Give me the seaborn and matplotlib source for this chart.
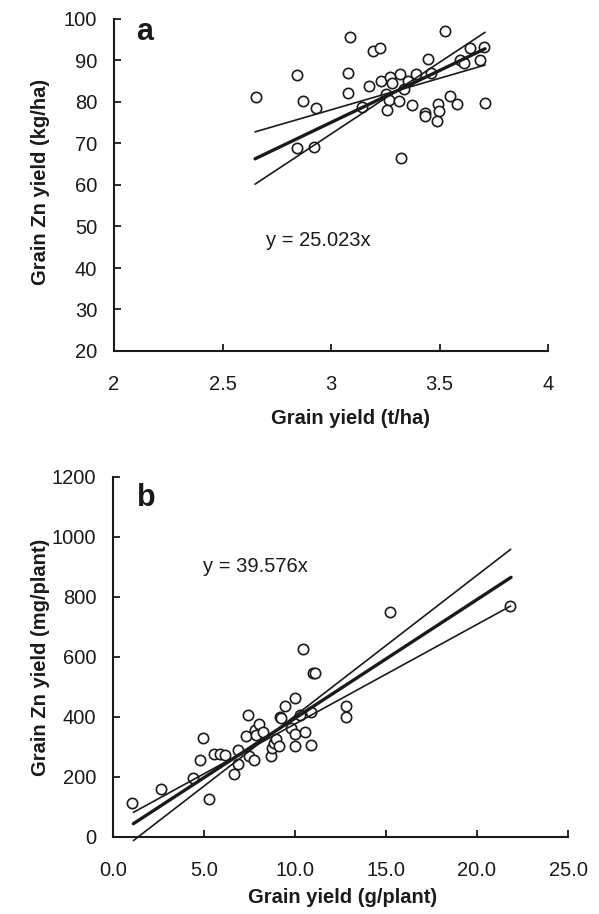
import matplotlib
matplotlib.use("Agg")
import matplotlib.pyplot as plt
import seaborn as sns
import numpy as np
import pandas as pd

# ---------------- data ----------------
# Panel a: grain yield (t/ha) vs grain Zn yield (kg/ha)
a_x = [2.653, 2.845, 2.870, 2.929, 2.845, 2.923, 3.086, 3.078, 3.078, 3.175, 3.141,
       3.192, 3.224, 3.229, 3.270, 3.283, 3.252, 3.266, 3.258, 3.318, 3.313, 3.355,
       3.336, 3.324, 3.373, 3.390, 3.446, 3.462, 3.433, 3.433, 3.493, 3.499, 3.487,
       3.547, 3.582, 3.524, 3.642, 3.704, 3.596, 3.613, 3.685, 3.708]
a_y = [81.1, 86.4, 80.2, 78.6, 68.9, 69.2, 95.6, 87.1, 82.1, 83.9, 78.9,
       92.4, 93.0, 85.1, 86.1, 84.5, 81.9, 80.6, 78.0, 86.7, 80.2, 85.0,
       83.1, 66.4, 79.2, 86.7, 90.4, 87.1, 77.3, 76.7, 79.6, 77.9, 75.5,
       81.4, 79.5, 97.0, 93.0, 93.3, 90.0, 89.3, 90.1, 79.8]
a_slope = 25.023
a_fit_x = [2.65, 3.71]
a_band_x = [2.65, 3.71]
a_band_flat = [72.8, 88.9]
a_band_steep = [60.2, 96.8]

# Panel b: grain yield (g/plant) vs grain Zn yield (mg/plant)
b_x = [1.07, 2.64, 4.38, 4.80, 4.95, 5.29, 5.55, 5.88, 6.14, 6.67, 6.89, 6.89,
       7.44, 7.31, 7.47, 7.75, 7.82, 8.02, 7.86, 8.24, 8.66, 8.72, 8.85, 8.94,
       9.12, 9.18, 9.23, 9.45, 9.78, 10.02, 10.02, 10.02, 10.27, 10.53, 10.44,
       10.90, 10.90, 11.01, 11.12, 12.82, 12.82, 15.2, 21.8]
b_y = [112, 159, 198, 256, 330, 128, 277, 277, 272, 209, 243, 290,
       407, 338, 271, 256, 357, 376, 340, 350, 269, 296, 312, 326,
       304, 399, 398, 438, 364, 464, 342, 303, 407, 350, 626,
       308, 417, 548, 548, 438, 399, 751, 770]
b_slope = 39.576
b_fit_x = [1.12, 21.87]
b_band_x = [1.12, 21.85]
b_band_flat = [82, 770]
b_band_steep = [-12, 959]

a_xticks = [2, 2.5, 3, 3.5, 4]
a_xticklabels = ["2", "2.5", "3", "3.5", "4"]
a_yticks = [20, 30, 40, 50, 60, 70, 80, 90, 100]
b_xticks = [0, 5, 10, 15, 20, 25]
b_xticklabels = ["0.0", "5.0", "10.0", "15.0", "20.0", "25.0"]
b_yticks = [0, 200, 400, 600, 800, 1000, 1200]

# ---------------- style ----------------
sns.set_theme(style="ticks")
plt.rcParams["font.family"] = ["Liberation Sans", "DejaVu Sans"]
ink = "#1a1a1a"

fig = plt.figure(figsize=(5.99, 9.14), dpi=100)
W, H = 599, 914
def box(l, r, t, b):
    return [l / W, 1 - b / H, (r - l) / W, (b - t) / H]

ax_a = fig.add_axes(box(114, 548, 19, 351))
ax_b = fig.add_axes(box(113, 568, 477, 837))

def draw(ax, xs, ys, slope, fit_x, band_x, flat, steep):
    df = pd.DataFrame({"x": xs, "y": ys})
    sns.scatterplot(data=df, x="x", y="y", ax=ax, marker="o", s=55,
                    facecolor="white", edgecolor=ink, linewidth=1.2, zorder=3)
    fx = np.array(fit_x)
    sns.lineplot(x=fx, y=slope * fx, ax=ax, color=ink, linewidth=2.4,
                 estimator=None, sort=False, zorder=4)
    sns.lineplot(x=band_x, y=flat, ax=ax, color=ink, linewidth=1.2,
                 estimator=None, sort=False, zorder=4)
    sns.lineplot(x=band_x, y=steep, ax=ax, color=ink, linewidth=1.2,
                 estimator=None, sort=False, zorder=4)
    for ln in ax.lines:
        ln.set_clip_on(False)

draw(ax_a, a_x, a_y, a_slope, a_fit_x, a_band_x, a_band_flat, a_band_steep)
draw(ax_b, b_x, b_y, b_slope, b_fit_x, b_band_x, b_band_flat, b_band_steep)

def style_axes(ax, xlim, ylim, xt, xtl, yt, xlabel, ylabel, xlc, ylc):
    ax.set_xlim(*xlim)
    ax.set_ylim(*ylim)
    ax.set_xticks(xt)
    ax.set_xticklabels(xtl)
    ax.set_yticks(yt)
    ax.set_yticklabels([str(v) for v in yt])
    sns.despine(ax=ax)
    for s in ("left", "bottom"):
        ax.spines[s].set_linewidth(1.5)
        ax.spines[s].set_color(ink)
    ax.tick_params(direction="in", length=5, width=1.3, color=ink,
                   labelsize=14.5, labelcolor=ink)
    ax.tick_params(axis="x", pad=17)
    ax.tick_params(axis="y", pad=12)
    ax.set_xlabel(xlabel, fontsize=14.5, fontweight="bold", color=ink)
    ax.set_ylabel(ylabel, fontsize=14.5, fontweight="bold", color=ink)
    ax.xaxis.set_label_coords(*xlc)
    ax.yaxis.set_label_coords(*ylc)

style_axes(ax_a, (2, 4), (20, 100), a_xticks, a_xticklabels, a_yticks,
           "Grain yield (t/ha)", "Grain Zn yield (kg/ha)",
           (0.544, -0.175), (-0.147, 0.509))
style_axes(ax_b, (0, 25), (0, 1200), b_xticks, b_xticklabels, b_yticks,
           "Grain yield (g/plant)", "Grain Zn yield (mg/plant)",
           (0.505, -0.142), (-0.138, 0.5))

ax_a.text(0.052, 0.961, "a", transform=ax_a.transAxes, fontsize=22,
          fontweight="bold", color=ink, ha="left", va="center")
ax_b.text(0.053, 0.942, "b", transform=ax_b.transAxes, fontsize=22,
          fontweight="bold", color=ink, ha="left", va="center")
fig.text(266 / W, 1 - 240 / H, f"y = {a_slope:.3f}x", fontsize=14.5,
         color=ink, ha="left", va="center")
fig.text(203 / W, 1 - 567 / H, f"y = {b_slope:.3f}x", fontsize=14.5,
         color=ink, ha="left", va="center")

fig.savefig("out.png", dpi=100)
